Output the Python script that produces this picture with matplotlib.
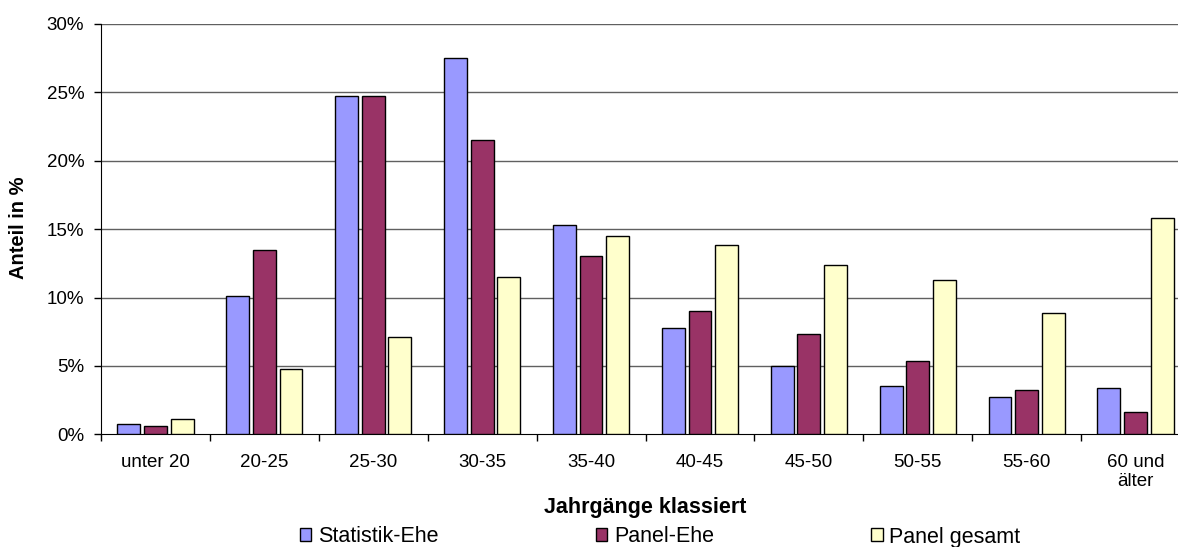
import matplotlib
matplotlib.use("Agg")
import matplotlib.pyplot as plt
import numpy as np
from matplotlib.patches import Patch

plt.rcParams['font.family'] = ['Liberation Sans', 'DejaVu Sans']

categories = ["unter 20", "20-25", "25-30", "30-35", "35-40", "40-45",
              "45-50", "50-55", "55-60", "60 und\nälter"]
statistik_ehe = [0.75, 10.1, 24.7, 27.5, 15.3, 7.8, 5.0, 3.5, 2.7, 3.4]
panel_ehe = [0.6, 13.5, 24.75, 21.55, 13.05, 9.05, 7.35, 5.35, 3.25, 1.6]
panel_gesamt = [1.15, 4.8, 7.15, 11.5, 14.5, 13.85, 12.4, 11.25, 8.85, 15.8]
series_names = ["Statistik-Ehe", "Panel-Ehe", "Panel gesamt"]
series_colors = ["#9999FF", "#993366", "#FFFFCC"]
y_ticks = [0, 5, 10, 15, 20, 25, 30]

W, H = 1178, 547
fig = plt.figure(figsize=(W / 100, H / 100), dpi=100)
ax = fig.add_axes([101 / W, (H - 434.3) / H, 1089 / W, 410.3 / H])

x = np.arange(len(categories))
offset = 0.245
width = 0.21
for i, (vals, col) in enumerate(zip([statistik_ehe, panel_ehe, panel_gesamt], series_colors)):
    ax.bar(x + (i - 1) * offset, vals, width=width, color=col,
           edgecolor="black", linewidth=1.0, zorder=3)

ax.set_xlim(-0.5, len(categories) - 0.5)
ax.set_ylim(0, 30)
ax.set_yticks(y_ticks)
ax.set_yticklabels([f"{v}%" for v in y_ticks], fontsize=13.5)
for v in y_ticks[1:]:
    ax.axhline(v, color="#606060", linewidth=1.0, zorder=1)

ax.set_xticks(x)
ax.set_xticklabels(categories, fontsize=13.5, linespacing=1.15, va="top")
ax.set_xticks(np.arange(-0.5, len(categories), 1.0), minor=True)
ax.tick_params(axis="x", which="major", length=0, pad=14)
ax.tick_params(axis="x", which="minor", length=5, width=1, color="black", direction="out")
ax.tick_params(axis="y", length=5, width=1, color="black", direction="out", pad=7)

for s in ["top", "right"]:
    ax.spines[s].set_visible(False)
ax.spines["left"].set_color("black")
ax.spines["bottom"].set_color("black")

fig.text(645 / W, 1 - 508 / H, "Jahrgänge klassiert", ha="center", va="center",
         fontsize=15.5, fontweight="bold")
fig.text(19 / W, 1 - 228 / H, "Anteil in %", ha="center", va="center",
         rotation=90, fontsize=14.5, fontweight="bold")

handles = [Patch(facecolor=c, edgecolor="black", linewidth=1.0) for c in series_colors]
fig.legend(handles, series_names, loc="center", bbox_to_anchor=(660 / W, 1 - 537 / H),
           ncol=3, frameon=False, fontsize=15.5, handlelength=0.55, handleheight=0.55,
           handletextpad=0.3, columnspacing=7.3, borderpad=0)

fig.savefig("out.png", dpi=100)
